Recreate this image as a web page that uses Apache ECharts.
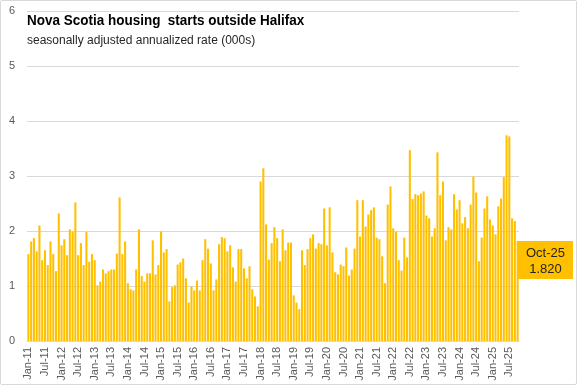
<!DOCTYPE html>
<html>
<head>
<meta charset="utf-8">
<script src="https://cdn.jsdelivr.net/npm/echarts@6/dist/echarts.min.js"></script>
<style>
html,body{margin:0;padding:0;background:#fff;}
#wrap{position:absolute;left:0;top:0;width:575px;height:383px;border:1px solid #d9d9d9;border-radius:2px;}
#chart{width:577px;height:385px;position:absolute;left:0;top:0;}
</style>
</head>
<body>
<div id="wrap"></div>
<div id="chart"></div>
<script>
// Month names and years used to build the monthly category labels (Jan-11 .. Oct-25)
const monthNames = ['Jan','Feb','Mar','Apr','May','Jun','Jul','Aug','Sep','Oct','Nov','Dec'];
const years = ['11','12','13','14','15','16','17','18','19','20','21','22','23','24','25'];
const lastMonthCount = 10; // 2025 runs Jan..Oct

// Housing starts, SAAR (000s), monthly
const y2011 = [1.58,1.81,1.87,1.63,2.10,1.47,1.65,1.38,1.81,1.58,1.27,2.32];
const y2012 = [1.74,1.85,1.56,2.03,1.99,2.52,1.56,1.78,1.38,1.98,1.44,1.58];
const y2013 = [1.47,1.01,1.08,1.30,1.23,1.27,1.30,1.30,1.59,2.61,1.58,1.81];
const y2014 = [1.05,0.94,0.92,1.30,2.03,1.18,1.08,1.23,1.23,1.83,1.21,1.38];
const y2015 = [1.99,1.61,1.67,0.72,0.98,1.01,1.39,1.43,1.50,1.14,0.70,0.99];
const y2016 = [0.92,1.10,0.92,1.47,1.85,1.68,1.41,0.92,1.12,1.76,1.89,1.87];
const y2017 = [1.63,1.74,1.34,1.08,1.67,1.67,1.32,1.14,1.36,0.94,0.81,0.63];
const y2018 = [2.90,3.14,2.12,1.48,1.78,2.07,1.87,1.45,2.03,1.65,1.79,1.79];
const y2019 = [0.83,0.70,0.58,1.65,1.38,1.67,1.87,1.94,1.68,1.78,1.76,2.41];
const y2020 = [1.74,2.43,1.61,1.25,1.21,1.39,1.36,1.70,1.19,1.30,1.68,2.56];
const y2021 = [1.90,2.56,2.08,2.30,2.38,2.43,1.88,1.85,1.54,1.05,2.48,2.81];
const y2022 = [2.05,1.99,1.47,1.28,1.88,1.52,3.47,2.58,2.67,2.65,2.68,2.72];
const y2023 = [2.28,2.23,1.90,2.05,3.43,2.65,2.90,1.83,2.07,2.03,2.67,2.39];
const y2024 = [2.56,2.14,2.25,2.05,2.48,2.99,2.70,1.45,1.88,2.41,2.63,2.21];
const y2025 = [2.10,1.94,2.45,2.59,2.98,3.74,3.72,2.23,2.18,1.820];

const yTicks = [0,1,2,3,4,5,6];
const titleText = 'Nova Scotia housing  starts outside Halifax';
const subtitleText = 'seasonally adjusted annualized rate (000s)';
const calloutLabel = 'Oct-25';
const calloutValue = '1.820';

const values = [].concat(y2011,y2012,y2013,y2014,y2015,y2016,y2017,y2018,y2019,y2020,y2021,y2022,y2023,y2024,y2025);
const categories = [];
years.forEach(function(yy, yi){
  const n = (yi === years.length - 1) ? lastMonthCount : 12;
  for (let m = 0; m < n; m++) categories.push(monthNames[m] + '-' + yy);
});

const chart = echarts.init(document.getElementById('chart'), null, {renderer:'canvas'});
chart.setOption({
  animation:false,
  backgroundColor:'transparent',
  textStyle:{fontFamily:'Liberation Sans, Arial, sans-serif'},
  grid:{left:27,right:58,top:11,bottom:44,containLabel:false},
  title:[
    {text:subtitleText,left:22,top:30,textStyle:{fontSize:12,fontWeight:'normal',color:'#262626',fontFamily:'Liberation Sans, Arial, sans-serif'}}
  ],
  xAxis:{
    type:'category',
    data:categories,
    axisTick:{show:false},
    axisLine:{lineStyle:{color:'#d9d9d9'}},
    axisLabel:{
      rotate:90,
      interval:function(i){return i % 6 === 0;},
      color:'#595959',fontSize:11,margin:6,
      fontFamily:'Liberation Sans, Arial, sans-serif'
    }
  },
  yAxis:{
    type:'value',min:0,max:6,interval:1,
    axisLine:{show:false},axisTick:{show:false},
    splitLine:{lineStyle:{color:'#d9d9d9',width:1}},
    axisLabel:{color:'#595959',fontSize:11,margin:12,
      formatter:function(v){return yTicks.indexOf(v)>=0?String(v):'';},
      fontFamily:'Liberation Sans, Arial, sans-serif'}
  },
  series:[{
    type:'bar',
    data:values,
    barCategoryGap:'25%',
    itemStyle:{color:'#FFC000'}
  }],
  graphic:[
    {type:'text',x:27,y:13,scaleX:0.87,z:10,
      style:{text:titleText,fontSize:15.5,fontWeight:'bold',fill:'#000',
        fontFamily:'Liberation Sans, Arial, sans-serif',verticalAlign:'top',align:'left'}},
    {type:'group',left:518,top:241,
    children:[
      {type:'rect',shape:{x:0,y:0,width:55,height:38},style:{fill:'#FFC000'}},
      {type:'text',style:{x:27.5,y:4,text:calloutLabel+'\n'+calloutValue,align:'center',verticalAlign:'top',
        fontSize:13,lineHeight:16,fill:'#262626',fontFamily:'Liberation Sans, Arial, sans-serif'}}
    ]
  }]
});
</script>
</body>
</html>
